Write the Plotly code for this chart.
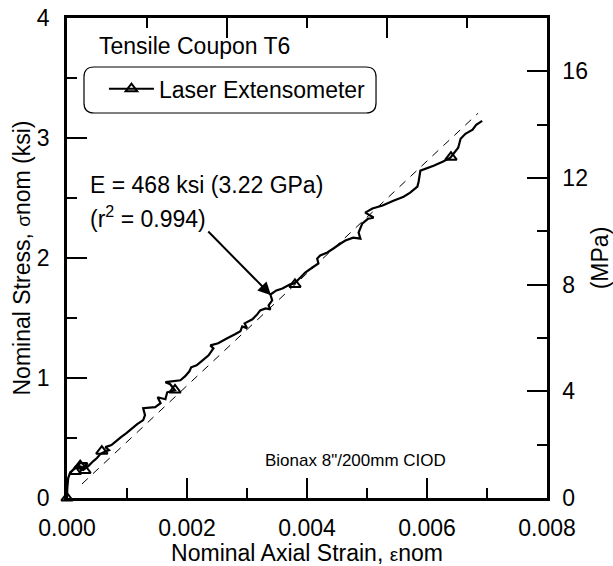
import plotly.graph_objects as go

# ---- data ----
strain = [0, 0.000005, 0.00002, 0.000055, 0.00012, 0.0002, 0.00029, 0.00034, 0.00022, 0.000155,
          0.00027, 0.000355, 0.00044, 0.0005, 0.000555, 0.00062, 0.0007, 0.00064, 0.00074, 0.00082,
          0.0009, 0.00099, 0.00107, 0.00117, 0.00127, 0.0013, 0.00127, 0.00147, 0.00156, 0.00151,
          0.00164, 0.00167, 0.0018, 0.00172, 0.00164, 0.00189, 0.00197, 0.00204, 0.00207, 0.00216,
          0.00224, 0.00236, 0.00244, 0.00239, 0.00252, 0.00267, 0.0028, 0.00289, 0.00292, 0.003,
          0.00296, 0.00309, 0.00317, 0.00322, 0.00331, 0.00339, 0.00336, 0.00342, 0.00339, 0.00349,
          0.00359, 0.00372, 0.00379, 0.00389, 0.00397, 0.00409, 0.00419, 0.00417, 0.00422, 0.00434,
          0.00444, 0.00456, 0.00464, 0.00477, 0.00489, 0.00486, 0.00492, 0.00502, 0.00511, 0.00497,
          0.00509, 0.00526, 0.00544, 0.00561, 0.00572, 0.00584, 0.00586, 0.00589, 0.00611, 0.00626,
          0.00639, 0.00652, 0.00656, 0.00664, 0.00676, 0.00682, 0.00692]
stress = [0, 0.083, 0.166, 0.216, 0.241, 0.266, 0.249, 0.291, 0.291, 0.258,
          0.233, 0.266, 0.308, 0.333, 0.366, 0.383, 0.399, 0.424, 0.441, 0.474,
          0.507, 0.541, 0.574, 0.615, 0.649, 0.69, 0.748, 0.757, 0.79, 0.84,
          0.823, 0.881, 0.898, 0.948, 0.965, 0.981, 1.015, 1.056, 1.089, 1.106,
          1.139, 1.189, 1.247, 1.272, 1.289, 1.331, 1.364, 1.389, 1.43, 1.414,
          1.455, 1.489, 1.53, 1.563, 1.58, 1.572, 1.605, 1.647, 1.696, 1.73,
          1.746, 1.78, 1.788, 1.838, 1.879, 1.921, 1.954, 1.996, 2.021, 2.046,
          2.079, 2.121, 2.146, 2.17, 2.162, 2.212, 2.287, 2.328, 2.337, 2.378,
          2.412, 2.437, 2.478, 2.511, 2.545, 2.595, 2.636, 2.728, 2.769, 2.802,
          2.836, 2.919, 2.994, 3.035, 3.069, 3.11, 3.143]

marker_strain = [0, 0.00014, 0.00022, 0.0003, 0.00058, 0.0018, 0.0038, 0.0064]
marker_stress = [0, 0.22, 0.27, 0.23, 0.39, 0.90, 1.78, 2.84]

fit_strain = [0.00025, 0.00685]
fit_stress = [0.117, 3.206]

x_ticks = [0, 0.002, 0.004, 0.006, 0.008]
x_ticklabels = ["0.000", "0.002", "0.004", "0.006", "0.008"]
y_ticks = [0, 1, 2, 3, 4]
y2_ticks = [0, 4, 8, 12, 16]

FONT = "Arial, Liberation Sans, sans-serif"
BLACK = "black"

fig = go.Figure()

fig.add_trace(go.Scatter(x=fit_strain, y=fit_stress, mode="lines",
                         line=dict(color=BLACK, width=1, dash="8px,7px"),
                         showlegend=False, hoverinfo="skip"))
fig.add_trace(go.Scatter(x=strain, y=stress, mode="lines",
                         line=dict(color=BLACK, width=2.2, simplify=False),
                         showlegend=False))
fig.add_trace(go.Scatter(x=marker_strain, y=marker_stress, mode="markers", cliponaxis=False,
                         marker=dict(symbol="triangle-up-open", size=10, color=BLACK,
                                     line=dict(width=2, color=BLACK)),
                         showlegend=False))
# legend entry
fig.add_trace(go.Scatter(x=[None], y=[None], mode="lines+markers", name="Laser Extensometer",
                         line=dict(color=BLACK, width=2),
                         marker=dict(symbol="triangle-up-open", size=10, color=BLACK,
                                     line=dict(width=2, color=BLACK))))
# dummy trace to activate the secondary axes
fig.add_trace(go.Scatter(x=[None], y=[None], xaxis="x2", yaxis="y2", showlegend=False))

tickfont = dict(family=FONT, size=23, color=BLACK)

fig.update_layout(
    width=613, height=566,
    margin=dict(l=67, r=66, t=18, b=68, autoexpand=False),
    paper_bgcolor="white", plot_bgcolor="white",
    font=dict(family=FONT, size=23, color=BLACK),
    xaxis=dict(range=[0, 0.008], tickvals=x_ticks, ticktext=x_ticklabels, automargin=False,
               ticks="inside", ticklen=20, tickwidth=2, tickcolor=BLACK,
               showline=True, linewidth=2.5, linecolor=BLACK, showgrid=False, zeroline=False,
               minor=dict(dtick=0.001, ticks="inside", ticklen=10, tickwidth=2, tickcolor=BLACK),
               tickfont=tickfont, ticklabelstandoff=8,
               title=dict(text='Nominal Axial Strain, <span style="font-size:19px">ε</span>nom',
                          font=dict(family=FONT, size=23), standoff=4)),
    xaxis2=dict(range=[0, 6], overlaying="x", side="top", tickvals=[2, 4], automargin=False,
                showticklabels=False, ticks="inside", ticklen=20, tickwidth=2, tickcolor=BLACK,
                minor=dict(tickvals=[1, 3, 5], ticks="inside", ticklen=10, tickwidth=2, tickcolor=BLACK),
                showline=True, linewidth=2.5, linecolor=BLACK, showgrid=False, zeroline=False),
    yaxis=dict(range=[0, 4], tickvals=y_ticks, automargin=False,
               ticks="inside", ticklen=20, tickwidth=2, tickcolor=BLACK,
               showline=True, linewidth=2.5, linecolor=BLACK, showgrid=False, zeroline=False,
               minor=dict(dtick=0.5, ticks="inside", ticklen=10, tickwidth=2, tickcolor=BLACK),
               tickfont=tickfont, ticklabelstandoff=10,
               title=dict(text='Nominal Stress, <span style="font-size:19px">σ</span>nom (ksi)',
                          font=dict(family=FONT, size=23), standoff=0)),
    yaxis2=dict(range=[0, 18], overlaying="y", side="right", tickvals=y2_ticks, automargin=False,
                ticks="inside", ticklen=20, tickwidth=2, tickcolor=BLACK,
                minor=dict(dtick=2, ticks="inside", ticklen=10, tickwidth=2, tickcolor=BLACK),
                showline=True, linewidth=2.5, linecolor=BLACK, showgrid=False, zeroline=False,
                tickfont=tickfont, ticklabelstandoff=8,
                title=dict(text="(MPa)", font=dict(family=FONT, size=23), standoff=17)),
    legend=dict(x=0.077, y=0.8975, xanchor="left", yanchor="top",
                bgcolor="rgba(0,0,0,0)", borderwidth=0,
                font=dict(family=FONT, size=23, color=BLACK), itemwidth=45),
    showlegend=True,
)

# rounded legend frame
x0, x1, y0, y1, rx, ry = 0.0354, 0.6438, 0.8021, 0.8979, 0.0208, 0.0208
path = (f"M{x0+rx},{y1} L{x1-rx},{y1} Q{x1},{y1} {x1},{y1-ry} L{x1},{y0+ry} "
        f"Q{x1},{y0} {x1-rx},{y0} L{x0+rx},{y0} Q{x0},{y0} {x0},{y0+ry} "
        f"L{x0},{y1-ry} Q{x0},{y1} {x0+rx},{y1} Z")
fig.add_shape(type="path", path=path, xref="paper", yref="paper",
              line=dict(color=BLACK, width=1.2), fillcolor="rgba(0,0,0,0)")

fig.add_annotation(x=0.0619, y=0.9417, xref="paper", yref="paper", xanchor="left", yanchor="middle",
                   text="Tensile Coupon T6", showarrow=False, font=dict(family=FONT, size=23))
fig.add_annotation(x=0.04375, y=0.652, xref="paper", yref="paper", xanchor="left", yanchor="middle",
                   text="E = 468 ksi (3.22 GPa)", showarrow=False, font=dict(family=FONT, size=23))
fig.add_annotation(x=0.04375, y=0.585, xref="paper", yref="paper", xanchor="left", yanchor="middle",
                   text="(r<sup>2</sup> = 0.994)", showarrow=False, font=dict(family=FONT, size=23))
fig.add_annotation(x=0.4083, y=0.0771, xref="paper", yref="paper", xanchor="left", yanchor="middle",
                   text='Bionax 8"/200mm CIOD', showarrow=False, font=dict(family=FONT, size=17))
# arrow
fig.add_annotation(x=0.0034, y=1.69, ax=0.00233, ay=2.233, xref="x", yref="y", axref="x", ayref="y",
                   text="", showarrow=True, arrowhead=2, arrowsize=1.3, arrowwidth=2, arrowcolor=BLACK)

fig.write_html("out.html")
